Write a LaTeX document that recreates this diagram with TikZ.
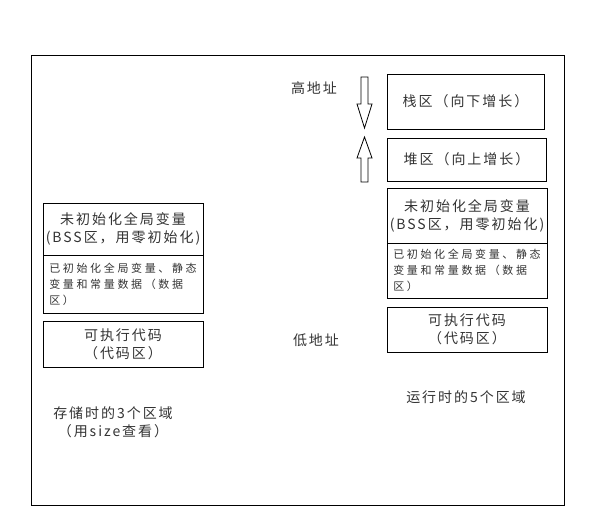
\documentclass[tikz,border=0pt]{standalone}
\usepackage{fontspec}
\setmainfont{Noto Sans CJK SC}
\begin{document}
\begin{tikzpicture}[x=1pt,y=-1pt,
  box/.style={draw,line width=1pt,inner sep=0pt},
  lab/.style={font=\fontsize{14}{18}\selectfont\addfontfeatures{LetterSpace=14},text=black!80,align=center},
  small/.style={font=\fontsize{11}{16}\selectfont\addfontfeatures{LetterSpace=24},text=black!80,align=left}]
\useasboundingbox (0,0) rectangle (601,528);
\draw[line width=1pt] (31,55) rectangle (564,505);
% left
\node[box,minimum width=160,minimum height=52] (lbss) at (123,229) {};
\node[lab] at (lbss) {未初始化全局变量\\(BSS区，用零初始化)};
\node[box,minimum width=160,minimum height=58] (ldata) at (123,284) {};
\node[small] at (ldata) {已初始化全局变量、静态\\变量和常量数据（数据\\区）};
\node[box,minimum width=160,minimum height=46] (lcode) at (123,344) {};
\node[lab] at (lcode) {可执行代码\\（代码区）};
% right
\node[box,minimum width=157,minimum height=55] (stack) at (465.5,101.5) {};
\node[lab] at (stack) {栈区（向下增长）};
\node[box,minimum width=159,minimum height=43] (heap) at (466.5,159.5) {};
\node[lab] at (heap) {堆区（向上增长）};
\node[box,minimum width=160,minimum height=55] (rbss) at (467,215.5) {};
\node[lab] at (rbss) {未初始化全局变量\\(BSS区，用零初始化)};
\node[box,minimum width=160,minimum height=55] (rdata) at (467,270.5) {};
\node[small] at (rdata) {已初始化全局变量、静态\\变量和常量数据（数据\\区）};
\node[box,minimum width=160,minimum height=45] (rcode) at (467,329.5) {};
\node[lab] at (rcode) {可执行代码\\（代码区）};
% arrows
\draw[line width=0.8pt] (361,77) -- (368,77) -- (368,104) -- (372,104) -- (364.5,128) -- (357,104) -- (361,104) -- cycle;
\draw[line width=0.8pt] (364.5,137) -- (372,158) -- (368,158) -- (368,182) -- (361,182) -- (361,158) -- (357,158) -- cycle;
\node[lab] (hi) at (314,88) {高地址};
\node[lab] (lo) at (316,340) {低地址};
\node[lab] (lcap) at (113,422) {存储时的3个区域\\（用size查看）};
\node[lab] (rcap) at (466,397) {运行时的5个区域};
\end{tikzpicture}
\end{document}
